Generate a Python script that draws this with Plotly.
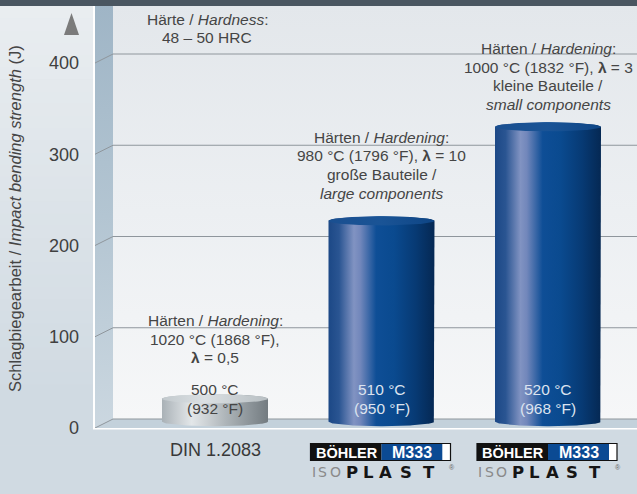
import numpy as np
import plotly.graph_objects as go

# ---- data -------------------------------------------------------------
categories = ["DIN 1.2083", "BÖHLER M333 ISOPLAST", "BÖHLER M333 ISOPLAST"]
impact_J = [25, 220, 323]                       # Schlagbiegearbeit in J
tempering_C = ["500 °C", "510 °C", "520 °C"]
tempering_F = ["(932 °F)", "(950 °F)", "(968 °F)"]
hardening_notes = [
    ["Härten / <i>Hardening</i>:", "1020 °C (1868 °F),", "<b>λ</b> = 0,5"],
    ["Härten / <i>Hardening</i>:", "980 °C (1796 °F), <b>λ</b> = 10",
     "große Bauteile /", "<i>large components</i>"],
    ["Härten / <i>Hardening</i>:", "1000 °C (1832 °F), <b>λ</b> = 3",
     "kleine Bauteile /", "<i>small components</i>"],
]
hardness_note = ["Härte / <i>Hardness</i>:", "48 – 50 HRC"]
y_ticks = [0, 100, 200, 300, 400]
y_title = "Schlagbiegearbeit / <i>Impact bending strength</i> (J)"

# ---- geometry of the pseudo-3D frame ------------------------------------
W, H = 637, 494
L, T, B = 93, 6, 65
PW, PH = W - L, H - T - B
X_PX = 166.5            # pixels per category step
Y_PX = 0.9125           # pixels per joule
x_min = -(215 - L) / X_PX
x_max = x_min + PW / X_PX
y_min = -1 / Y_PX
y_max = y_min + PH / Y_PX

wall_front = x_min + 2 / X_PX
wall_back = wall_front + 18 / X_PX
depth = 9 / Y_PX
half_w = 53 / X_PX
ry = 5.0
base = 7.0

FONT = "Liberation Sans, Arial, Helvetica, sans-serif"
TXT = "#454545"


def paper_x(px):
    return (px - L) / PW


def paper_y(py):
    return (H - B - py) / PH


def data_to_px_x(x):
    return L + (x - x_min) * X_PX


def mix(c1, c2, f):
    a = np.array([int(c1[i:i + 2], 16) for i in (1, 3, 5)])
    b = np.array([int(c2[i:i + 2], 16) for i in (1, 3, 5)])
    c = (a + (b - a) * f).round().astype(int)
    return "#%02x%02x%02x" % tuple(c)


fig = go.Figure()

# back wall
top = y_max + 2
fig.add_trace(go.Scatter(
    x=[wall_back, x_max + 0.1, x_max + 0.1, wall_back, wall_back],
    y=[depth, depth, top, top, depth],
    mode="lines", line=dict(width=0), fill="toself",
    fillgradient=dict(type="vertical",
                      colorscale=[[0, "#f6f7f8"], [0.5, "#eceff2"], [1, "#e3e7eb"]]),
    hoverinfo="skip"))

# floor
fig.add_trace(go.Scatter(
    x=[wall_front, x_max + 0.1, x_max + 0.1, wall_back, wall_front],
    y=[0, 0, depth, depth, 0],
    mode="lines", line=dict(width=0), fill="toself", fillcolor="#c3d1db",
    hoverinfo="skip"))

# left wall
fig.add_trace(go.Scatter(
    x=[wall_front, wall_back, wall_back, wall_front, wall_front],
    y=[0, depth, top, top, 0],
    mode="lines", line=dict(width=0), fill="toself",
    fillgradient=dict(type="vertical",
                      colorscale=[[0, "#cbd7e0"], [0.5, "#b3c5d2"], [1, "#9fb5c6"]]),
    hoverinfo="skip"))

# grid lines on the back wall with their perspective run on the side wall
gx, gy = [], []
for v in y_ticks:
    gx += [wall_front, wall_back, x_max + 0.1, None]
    gy += [v, v + depth, v + depth, None]
fig.add_trace(go.Scatter(x=gx, y=gy, mode="lines",
                         line=dict(color="#8f969c", width=1), hoverinfo="skip"))

# cylinders
blue_body = [[0, "#1c4886"], [0.1, "#2a5592"], [0.24, "#8193c2"], [0.3, "#7287bb"],
             [0.45, "#0e4e96"], [0.62, "#0a4a8f"], [0.82, "#073a74"], [1, "#052853"]]
grey_body = [[0, "#a9b1b6"], [0.12, "#c3c9cd"], [0.28, "#e3e7e9"], [0.42, "#cdd2d5"],
             [0.6, "#aeb5b9"], [0.85, "#899196"], [1, "#737b80"]]
blue_cap = [[0, "#1a4f90"], [0.5, "#1a5496"], [1, "#0e4585"]]
grey_cap = [[0, "#c2c9cd"], [0.4, "#dbe0e3"], [1, "#b8bfc3"]]

t = np.linspace(0, np.pi, 80)
full = np.linspace(0, 2 * np.pi, 120)
for i, val in enumerate(impact_J):
    y1 = base + val
    top_x = i - half_w * np.cos(t)
    top_y = y1 + ry * np.sin(t)
    bot_x = i + half_w * np.cos(t)
    bot_y = base - ry * np.sin(t)
    xs = np.concatenate([top_x, bot_x, top_x[:1]])
    ys = np.concatenate([top_y, bot_y, top_y[:1]])
    body = grey_body if i == 0 else blue_body
    cap = grey_cap if i == 0 else blue_cap
    fig.add_trace(go.Scatter(
        x=xs, y=ys, mode="lines", line=dict(width=0), fill="toself",
        fillgradient=dict(type="horizontal", colorscale=body),
        hoverinfo="skip"))
    fig.add_trace(go.Scatter(
        x=i + half_w * np.cos(full), y=y1 + ry * np.sin(full),
        mode="lines", line=dict(width=0), fill="toself",
        fillgradient=dict(type="horizontal", colorscale=cap),
        hoverinfo="skip"))

annotations = []


def note(text, px_x, px_y, size=15.5, color=TXT, **kw):
    annotations.append(dict(
        text=text, x=paper_x(px_x), y=paper_y(px_y), xref="paper", yref="paper",
        showarrow=False, xanchor=kw.pop("xanchor", "center"), yanchor="middle",
        font=dict(family=kw.pop("family", FONT), size=size, color=color,
                  weight=kw.pop("weight", "normal")), **kw))


LINE = 18.5
note_first_line = [320.5, 137.5, 48.5]
for i, lines in enumerate(hardening_notes):
    cx = data_to_px_x(i)
    for k, s in enumerate(lines):
        note(s, cx, note_first_line[i] + k * LINE)
    tc = TXT if i == 0 else "#dce3ef"
    note(tempering_C[i], cx, 389.5, color=tc)
    note(tempering_F[i], cx, 408, color=tc)

for k, s in enumerate(hardness_note):
    note(s, 207, 19 + k * LINE)

# category labels
note(categories[0], data_to_px_x(0), 450, size=18, color="#383838")

shapes = []


def rect(x0, y0, x1, y1, fill, line=None, layer="above"):
    shapes.append(dict(type="rect", xref="paper", yref="paper",
                       x0=paper_x(x0), x1=paper_x(x1), y0=paper_y(y0), y1=paper_y(y1),
                       fillcolor=fill, line=line or dict(width=0), layer=layer))


# background of the page: soft vertical fade
n_bands = 40
edges = np.linspace(T, H, n_bands + 1)
for k in range(n_bands):
    rect(0, edges[k], W, edges[k + 1] + 0.6,
         mix("#e9edf0", "#d0dae2", min(1.0, (k / (n_bands - 1)) * 1.25)),
         layer="below")

# dark strip at the top
rect(0, 0, W, T, "#4a5661")

# white frame edges
shapes.append(dict(type="line", xref="paper", yref="paper",
                   x0=paper_x(94), x1=paper_x(94), y0=paper_y(T), y1=paper_y(429),
                   line=dict(color="white", width=2)))
shapes.append(dict(type="line", xref="paper", yref="paper",
                   x0=paper_x(93), x1=paper_x(W + 2), y0=paper_y(428.7), y1=paper_y(428.7),
                   line=dict(color="white", width=1.6)))

# arrow head of the value axis
shapes.append(dict(type="path", xref="paper", yref="paper",
                   path="M {} {} L {} {} L {} {} Z".format(
                       paper_x(64), paper_y(35), paper_x(79), paper_y(35),
                       paper_x(71.5), paper_y(13)),
                   fillcolor="#7b7b7b", line=dict(width=0)))

# product logos under the steel grades
iso_letters = [("I", 3), ("S", 12), ("O", 24.5), ("P", 41), ("L", 57.5),
               ("A", 75), ("S", 95), ("T", 118)]
for i in (1, 2):
    cx = data_to_px_x(i)
    x0 = cx - 71
    rect(x0, 443.5, x0 + 71, 460.5, "#111111")
    rect(x0 + 71, 443.5, x0 + 132, 460.5, "#0b4a93")
    rect(x0 + 132, 443.5, x0 + 140, 460.5, "#ffffff")
    shapes.append(dict(type="rect", xref="paper", yref="paper",
                       x0=paper_x(x0), x1=paper_x(x0 + 140),
                       y0=paper_y(443.5), y1=paper_y(460.5),
                       line=dict(color="#111111", width=1.2)))
    note("BÖHLER", x0 + 36, 452.5, size=14.5, color="white", weight="bold")
    note("M333", x0 + 101.5, 452.5, size=16, color="white", weight="bold")
    for k, (ch, off) in enumerate(iso_letters):
        if k < 3:
            note(ch, x0 + off, 472, size=14, color="#8a8a8a",
                 family="DejaVu Sans, sans-serif")
        else:
            note(ch, x0 + off, 472, size=16.5, color="#151515",
                 family="DejaVu Sans, sans-serif", weight=900)
    note("®", x0 + 141, 467.5, size=7, color="#666666")

# value axis title
annotations.append(dict(
    text=y_title, x=paper_x(15), y=paper_y(219), xref="paper", yref="paper",
    showarrow=False, textangle=-90, xanchor="center", yanchor="middle",
    font=dict(family=FONT, size=16.5, color="#454545")))

fig.update_layout(
    width=W, height=H,
    margin=dict(l=L, r=0, t=T, b=B, pad=0),
    paper_bgcolor="#d3dde5",
    plot_bgcolor="rgba(0,0,0,0)",
    showlegend=False,
    font=dict(family=FONT, color=TXT),
    xaxis=dict(range=[x_min, x_max], visible=False, fixedrange=True),
    yaxis=dict(range=[y_min, y_max], tickvals=y_ticks, showgrid=False,
               zeroline=False, showline=False, ticks="",
               ticklabelstandoff=13,
               tickfont=dict(family=FONT, size=18, color="#404040"),
               fixedrange=True),
    annotations=annotations,
    shapes=shapes,
)

fig.write_html("out.html")
